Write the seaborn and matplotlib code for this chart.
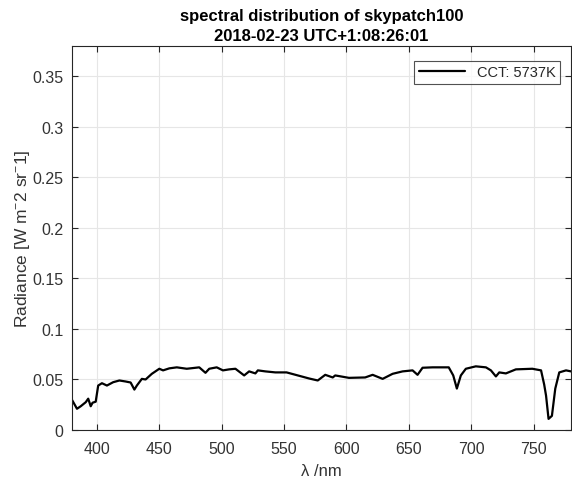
import matplotlib
matplotlib.use("Agg")
import matplotlib.pyplot as plt
import seaborn as sns
import pandas as pd

wavelength = [380, 384, 387, 391, 393, 395, 396.5, 399, 401, 404, 408, 413, 418, 423, 427, 430, 432,
              436, 439, 444, 450, 453, 458, 464, 472, 482, 487, 490, 496, 501, 506, 511, 518, 522,
              527, 529, 535, 543, 552, 561, 570, 577, 583, 589, 591, 602, 615, 621, 629, 637, 645,
              653, 657, 661, 669, 682, 685.6, 688.5, 691.7, 695.7, 703.7, 711.8, 715.8, 719.8, 722.5,
              727.8, 735.8, 749, 756, 758.5, 760, 762, 764.7, 767.4, 770.6, 776, 780]
radiance = [0.0298, 0.021, 0.0235, 0.0275, 0.031, 0.0235, 0.027, 0.028, 0.044, 0.0463, 0.044, 0.0473,
            0.049, 0.048, 0.047, 0.040, 0.044, 0.0506, 0.050, 0.0556, 0.0606, 0.059, 0.061, 0.062,
            0.0606, 0.062, 0.0566, 0.0606, 0.062, 0.059, 0.060, 0.0606, 0.054, 0.058, 0.056, 0.059,
            0.058, 0.057, 0.057, 0.054, 0.051, 0.049, 0.0546, 0.052, 0.054, 0.0516, 0.052, 0.0546,
            0.0506, 0.0556, 0.058, 0.059, 0.0546, 0.0616, 0.062, 0.062, 0.054, 0.041, 0.054, 0.0606,
            0.063, 0.062, 0.059, 0.053, 0.057, 0.056, 0.060, 0.0606, 0.059, 0.045, 0.034, 0.011,
            0.014, 0.041, 0.057, 0.059, 0.058]
series_label = "CCT: 5737K"
x_ticks = [400, 450, 500, 550, 600, 650, 700, 750]
y_ticks = [0, 0.05, 0.1, 0.15, 0.2, 0.25, 0.3, 0.35]
y_tick_labels = ["0", "0.05", "0.1", "0.15", "0.2", "0.25", "0.3", "0.35"]

sns.set_theme(style="white")
plt.rcParams['font.family'] = ['Liberation Sans', 'DejaVu Sans']
plt.rcParams['mathtext.fontset'] = 'custom'
plt.rcParams['mathtext.rm'] = 'Liberation Sans'

df = pd.DataFrame({"wavelength": wavelength, "radiance": radiance})

fig = plt.figure(figsize=(5.72, 4.81), dpi=100)
ax = fig.add_axes([72 / 572, 50 / 481, (571 - 72) / 572, (431 - 47) / 481])
sns.lineplot(data=df, x="wavelength", y="radiance", ax=ax, color="black", linewidth=1.6,
             label=series_label)

ax.set_xlim(380, 780)
ax.set_ylim(0, 0.38)
ax.set_xticks(x_ticks)
ax.set_yticks(y_ticks)
ax.set_yticklabels(y_tick_labels)
ax.grid(True, color="#e6e6e6", linewidth=0.8)
for s in ax.spines.values():
    s.set_color("#262626")
    s.set_linewidth(0.8)
ax.tick_params(direction="in", length=4, width=0.8, colors="#262626", labelsize=11.5,
               top=True, right=True, bottom=True, left=True, labelcolor="#333333")
ax.tick_params(axis="x", pad=8)
ax.tick_params(axis="y", pad=6)
ax.set_xlabel("λ /nm", fontsize=12, color="#333333", labelpad=5)
ax.set_ylabel(r"Radiance [W m$^{\mathrm{-}}$2 sr$^{\mathrm{-}}$1]", fontsize=12.5, color="#333333",
              labelpad=0.5)
ax.set_title("spectral distribution of skypatch100\n2018-02-23 UTC+1:08:26:01",
             fontsize=12, fontweight="bold", color="black", pad=4, linespacing=1.45)
leg = ax.legend(loc="upper right", fontsize=10.5, frameon=True, fancybox=False,
                edgecolor="#262626", handlelength=3.2, borderpad=0.3, borderaxespad=0,
                bbox_to_anchor=(0.978, 0.961))
leg.get_frame().set_linewidth(0.8)

fig.savefig("out.png", dpi=100, facecolor="white")
